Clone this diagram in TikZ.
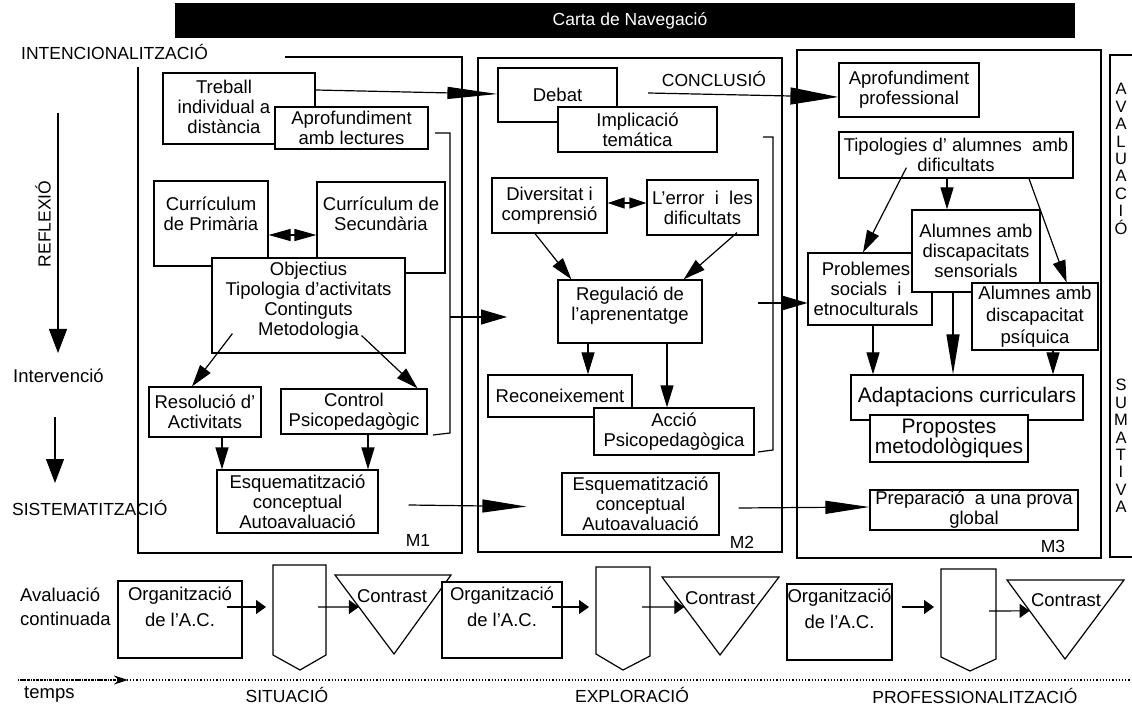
\documentclass[tikz,border=0pt]{standalone}
\usepackage{fontspec}
\setmainfont{Liberation Sans}
\usetikzlibrary{arrows.meta,calc}
\newcommand\bxf{\fontsize{18.5}{20}\selectfont}
\newcommand\bxbig{\fontsize{21}{20}\selectfont}
\newcommand\orgf{\fontsize{18.5}{26}\selectfont}
\newcommand\capf{\fontsize{17.5}{20}\selectfont}
\newcommand\colf{\fontsize{16.5}{17.4}\selectfont}
\begin{document}
\begin{tikzpicture}[x=1pt,y=-1pt,
  lw/.style={line width=1.2pt},
  bx/.style={draw, fill=white, lw, align=center, inner sep=1pt, font=\bxf},
  lbl/.style={font=\capf, inner sep=0pt},
  txt/.style={font=\bxf, inner sep=0pt},
  ar/.style={lw, -{Triangle[length=22pt,width=13pt]}},
  arV/.style={lw, -{Triangle[length=24pt,width=18pt]}},
  arT/.style={lw, -{Triangle[length=50pt,width=12pt]}},
  arB/.style={lw, -{Triangle[length=26pt,width=15pt]}},
  arC/.style={lw, -{Triangle[length=48pt,width=17pt]}},
  arE/.style={lw, -{Triangle[length=44pt,width=13pt]}},
  arL/.style={lw, -{Triangle[length=40pt,width=13pt]}},
  dar/.style={lw, {Triangle[length=22pt,width=12pt]}-{Triangle[length=22pt,width=12pt]}},
  dars/.style={lw, {Triangle[length=17pt,width=11pt]}-{Triangle[length=17pt,width=11pt]}},
  sa/.style={lw, -{Triangle[length=10pt,width=14pt]}},
]
\useasboundingbox (0,0) rectangle (1132,708);

% title bar
\fill[black] (175,3) rectangle (1075,38);
\node[lbl, text=white] (carta) at (630,21) {Carta de Navegació};

% left labels
\node[lbl, anchor=base west] (inten) at (21,60) {INTENCIONALITZACIÓ};
\node[lbl, rotate=90] (refl) at (43,224) {REFLEXIÓ};
\node[txt, anchor=base west] (interv) at (13,382) {Intervenció};
\node[lbl, anchor=base west] (sist) at (12,515) {SISTEMATITZACIÓ};
\coordinate (rf1) at (58,113); \coordinate (rf2) at (58,353);
\draw[arV] (rf1) -- (rf2);
\coordinate (iv1) at (55,417); \coordinate (iv2) at (55,483);
\draw[arV] (iv1) -- (iv2);

% module frames
\draw[lw] (285,57) -| (462,553) -| (138,67);
\draw[lw] (478,58) rectangle (782,552);
\draw[lw] (797,50) rectangle (1101,558);
\draw[lw] (1133,55) -| (1110,557) -- (1133,557);

% ---------- M1 ----------
\node[bx, minimum width=152pt, minimum height=71pt] (treball) at (239,108.5) {};
\node[txt, align=center] (treballt) at (224,107) {Treball\\individual a\\distància};
\node[bx, minimum width=153pt, minimum height=42pt] (aprof) at (351.5,128) {Aprofundiment\\amb lectures};
\node[bx, minimum width=114pt, minimum height=85pt] (curP) at (211,223.5) {Currículum\\de Primària\\\mbox{}};
\node[bx, minimum width=128pt, minimum height=91pt] (curS) at (381,227.5) {Currículum de\\Secundària\\[8pt]\mbox{}};
\node[bx, minimum width=193pt, minimum height=95pt] (obj) at (308.5,305.5) {Objectius\\Tipologia d'activitats\\Continguts\\Metodologia\\[-6pt]\mbox{}};
\node[bx, minimum width=112pt, minimum height=50pt] (resol) at (205,412) {Resolució d'\\Activitats};
\node[bx, minimum width=146pt, minimum height=45pt] (control) at (354,411.5) {Control\\Psicopedagògic};
\node[bx, minimum width=161pt, minimum height=63pt] (esq1) at (297.5,501.5) {Esquematització\\conceptual\\Autoavaluació};
\node[lbl, anchor=base] (m1) at (418,546) {M1};

\draw[dar] ([yshift=-11.5pt]curP.east) -- ([yshift=-7.5pt]curS.west);
\draw[ar] ($(obj.south west)+(21,-20)$) -- ($(resol.north)+(-13,0)$);
\draw[ar] ($(obj.south east)+(-44,-18)$) -- ($(control.north east)+(-10,0)$);
\coordinate (r1) at ($(resol.south)+(17,0)$);
\draw[ar] (r1) -- (r1 |- esq1.north);
\coordinate (r2) at ($(control.south)+(14,0)$);
\draw[ar] (r2) -- (r2 |- esq1.north);

% bracket M1
\coordinate (b1a) at (435,133); \coordinate (b1b) at (450,133);
\coordinate (b1c) at (450,433); \coordinate (b1d) at (433,435);
\draw[lw] (b1a) -- (b1b) -- (b1c) -- (b1d);
\coordinate (b1m) at (450,317); \coordinate (m2in) at (507,317);
\draw[arB] (b1m) -- (m2in);

% ---------- M2 ----------
\node[bx, minimum width=119pt, minimum height=54pt] (debat) at (557.5,95) {Debat};
\node[bx, minimum width=159pt, minimum height=45pt] (implic) at (637.5,129.5) {Implicació\\temática};
\node[lbl, anchor=base] (concl) at (714,87) {CONCLUSIÓ};
\node[bx, minimum width=115pt, minimum height=55pt] (divers) at (549.5,205.5) {Diversitat i\\comprensió};
\node[bx, minimum width=111pt, minimum height=55pt] (error) at (702.5,207.5) {L'error\ \ i\ \ les\\dificultats};
\node[bx, minimum width=144pt, minimum height=63pt] (regul) at (630,311.5) {Regulació de\\l'aprenentatge\\[-4pt]\mbox{}};
\node[bx, minimum width=144pt, minimum height=42pt] (recon) at (560,396) {Reconeixement};
\node[bx, minimum width=160pt, minimum height=47pt] (accio) at (674,431.5) {Acció\\Psicopedagògica};
\node[bx, minimum width=157pt, minimum height=62pt] (esq2) at (640.5,504) {Esquematització\\conceptual\\Autoavaluació};
\node[lbl, anchor=base] (m2) at (742,548) {M2};

\draw[dars] ([yshift=2.5pt]divers.east) -- ([yshift=4.5pt]error.west);
\draw[ar] ($(divers.south)+(-14.5,0)$) -- ($(regul.north west)+(14,0)$);
\draw[ar] ($(error.south)+(34.5,-3)$) -- ($(regul.north east)+(-19,0)$);
\coordinate (g1) at ($(regul.south)+(-42,0)$);
\draw[ar] (g1) -- (g1 |- recon.north);
\coordinate (g2) at ($(regul.south)+(37,0)$);
\draw[ar] (g2) -- (g2 |- accio.north);

% bracket M2
\coordinate (b2a) at (763,137); \coordinate (b2b) at (773,137);
\coordinate (b2c) at (773,450); \coordinate (b2d) at (758,452);
\draw[lw] (b2a) -- (b2b) -- (b2c) -- (b2d);

% ---------- M3 ----------
\node[bx, minimum width=140pt, minimum height=54pt] (aprofp) at (909,90) {Aprofundiment\\professional};
\node[bx, minimum width=234pt, minimum height=46pt] (tipol) at (956,155) {Tipologies d' alumnes\ \ amb\\dificultats};
\node[bx, minimum width=124pt, minimum height=72pt] (probl) at (870,289) {};
\node[txt, align=center] (problt) at (866,289) {Problemes\\socials\ \ i\\etnoculturals};
\node[bx, minimum width=128pt, minimum height=82pt] (sens) at (976,251) {Alumnes amb\\discapacitats\\sensorials};
\node[bx, minimum width=126pt, minimum height=67pt, font={\fontsize{18.5}{22}\selectfont}] (psiq) at (1035,316.5) {Alumnes amb\\discapacitat\\psíquica};
\node[bx, minimum width=232pt, minimum height=45pt, font=\bxbig] (adapt) at (967,397.5) {Adaptacions curriculars};
\node[bx, minimum width=158pt, minimum height=47pt, font=\bxbig] (propo) at (949,438.5) {Propostes\\metodològiques};
\node[bx, minimum width=208pt, minimum height=40pt] (prep) at (974,510) {Preparació\ \ a una prova\\global};
\node[lbl, anchor=base] (m3) at (1053,552) {M3};

\draw[ar] ($(tipol.south west)+(68,-11)$) -- ($(probl.north)+(-7,0)$);
\coordinate (h1) at ($(tipol.south)+(-9,0)$);
\draw[ar] (h1) -- (h1 |- sens.north);
\draw[ar] ($(tipol.south east)+(-45,-1)$) -- ($(psiq.north east)+(-32,0)$);
\coordinate (h2) at ($(probl.south)+(3,0)$);
\draw[ar] (h2) -- (h2 |- adapt.north);
\coordinate (h3) at ($(sens.south)+(-23,0)$);
\draw[arL] (h3) -- (h3 |- adapt.north);
\coordinate (h4) at ($(psiq.south)+(18,0)$);
\draw[ar] (h4) -- (h4 |- adapt.north);

% right column
\node[font=\colf, align=center, inner sep=0pt] (aval) at (1121,159) {A\\V\\A\\L\\U\\A\\C\\I\\Ó};
\node[font=\colf, align=center, inner sep=0pt] (sumat) at (1121,446) {S\\U\\M\\A\\T\\I\\V\\A};

% ---------- inter-module arrows ----------
\draw[arT] ([yshift=18.5pt]treball.east) -- ([yshift=1pt]debat.west);
\coordinate (cl) at (648,93);
\draw[arC] (cl) -- ([yshift=-7pt]aprofp.west);
\coordinate (b2m) at (758,303);
\draw[arB] (b2m) -- ([yshift=-14pt]probl.west);
\draw[arE, shorten >=35pt] ([xshift=30pt,yshift=-3.5pt]esq1.east) -- ([yshift=-3pt]esq2.west);
\draw[arE] ([xshift=19pt,yshift=-4pt]esq2.east) -- ([yshift=3pt]prep.west);

% ---------- continuous evaluation row ----------
\node[font={\fontsize{18.5}{24}\selectfont}, align=left, anchor=west, inner sep=0pt] (avc) at (20,607) {Avaluació\\continuada};

\node[bx, font=\orgf, minimum width=124pt, minimum height=77pt, inner sep=0pt] (org1) at (180,619.5) {Organització\\de l'A.C.\\\mbox{}};
\draw[lw] (273,565) -- (326,565) -- (326,655) -- (300,670) -- (273,655) -- cycle;
\coordinate (p1w) at (266,607); \coordinate (p1e) at (318,607);
\draw[sa] ($(org1.east)+(-16,-12.5)$) -- (p1w);
\coordinate (t1a) at (335,575); \coordinate (t1b) at (451,575); \coordinate (t1c) at (394,654);
\draw[lw] (t1a) -- (t1b) -- (t1c) -- cycle;
\node[txt] (c1) at (392,596) {Contrast};
\draw[sa] (p1e) -- ($(t1a)!0.405!(t1c)$);

\node[bx, font=\orgf, minimum width=120pt, minimum height=76pt, inner sep=0pt] (org2) at (502,620) {Organització\\de l'A.C.\\\mbox{}};
\draw[lw] (596,567) -- (650,567) -- (650,656) -- (623,670) -- (596,654) -- cycle;
\coordinate (p2w) at (589,607); \coordinate (p2e) at (642,607);
\draw[sa] ($(org2.east)+(-11,-13)$) -- (p2w);
\coordinate (t2a) at (662,577); \coordinate (t2b) at (779,577); \coordinate (t2c) at (720,655);
\draw[lw] (t2a) -- (t2b) -- (t2c) -- cycle;
\node[txt] (c2) at (720,598) {Contrast};
\draw[sa] (p2e) -- ($(t2a)!0.385!(t2c)$);

\node[bx, font=\orgf, minimum width=105pt, minimum height=76pt, inner sep=0pt] (org3) at (839.5,622) {Organització\\de l'A.C.\\\mbox{}};
\draw[lw] (941,569) -- (996,569) -- (996,659) -- (970,671) -- (941,657) -- cycle;
\coordinate (p3w) at (934,607); \coordinate (p3e) at (989,611);
\draw[sa] ($(org3.east)+(9,-15)$) -- (p3w);
\coordinate (t3a) at (1007,580); \coordinate (t3b) at (1124,580); \coordinate (t3c) at (1065,659);
\draw[lw] (t3a) -- (t3b) -- (t3c) -- cycle;
\node[txt] (c3) at (1066,600) {Contrast};
\draw[sa] (p3e) -- ($(t3a)!0.39!(t3c)$);

% ---------- time axis ----------
\coordinate (ts) at (18,680); \coordinate (tm) at (128,680); \coordinate (te) at (1132,680);
\draw[lw, dotted] (ts) -- (te);
\draw[lw, densely dotted, -{Stealth[length=14pt,width=9pt]}] (ts) -- (tm);
\node[txt, anchor=base west] (temps) at (24,698) {temps};
\node[lbl, anchor=base] (sit) at (287,702) {SITUACIÓ};
\node[lbl, anchor=base] (expl) at (632,702) {EXPLORACIÓ};
\node[lbl, anchor=base] (prof) at (975,703) {PROFESSIONALITZACIÓ};
\end{tikzpicture}
\end{document}
